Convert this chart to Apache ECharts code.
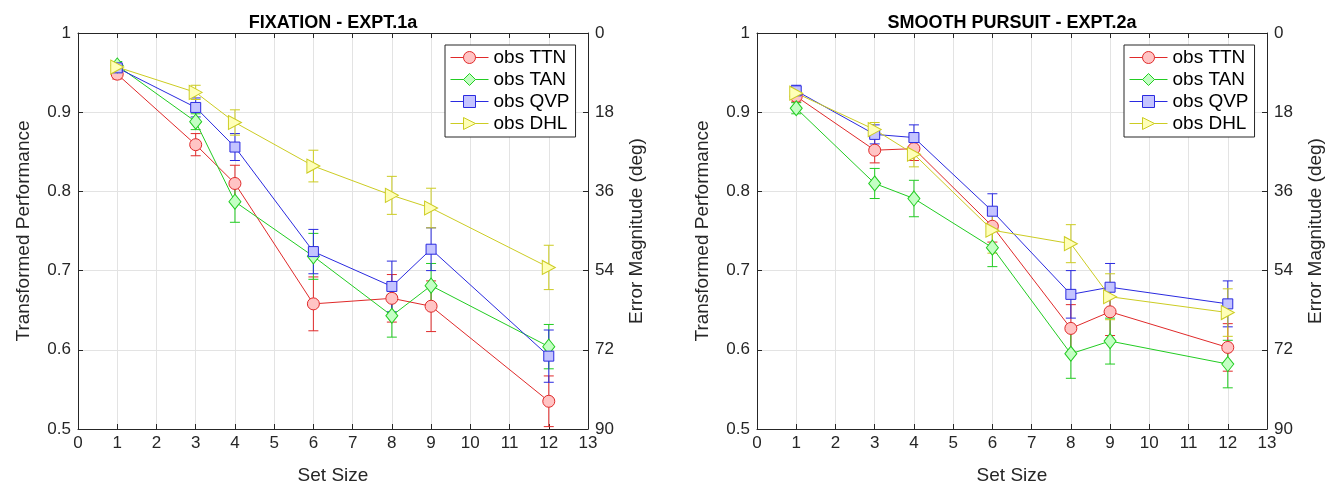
<!DOCTYPE html>
<html>
<head>
<meta charset="utf-8">
<script src="https://cdn.jsdelivr.net/npm/echarts@6/dist/echarts.min.js"></script>
<style>
  html, body { margin: 0; padding: 0; background: #ffffff; }
  #chart { width: 1328px; height: 490px; }
</style>
</head>
<body>
<div id="chart"></div>
<script>
// ---------- data ----------
const setSizes = [1, 3, 4, 6, 8, 9, 12];
const seriesNames = ['obs TTN', 'obs TAN', 'obs QVP', 'obs DHL'];
const xTickLabels = [0, 1, 2, 3, 4, 5, 6, 7, 8, 9, 10, 11, 12, 13];
const errTickLabels = [0, 18, 36, 54, 72, 90];

// Experiment 1a: fixation
const fixTTN = [0.948, 0.859, 0.810, 0.658, 0.665, 0.655, 0.535];
const fixTTNErr = [0.006, 0.014, 0.023, 0.034, 0.030, 0.032, 0.032];
const fixTAN = [0.959, 0.888, 0.787, 0.718, 0.643, 0.681, 0.604];
const fixTANErr = [0.005, 0.010, 0.026, 0.029, 0.027, 0.028, 0.028];
const fixQVP = [0.956, 0.906, 0.856, 0.724, 0.680, 0.727, 0.592];
const fixQVPErr = [0.004, 0.012, 0.017, 0.028, 0.032, 0.027, 0.033];
const fixDHL = [0.957, 0.925, 0.887, 0.832, 0.795, 0.779, 0.704];
const fixDHLErr = [0.005, 0.009, 0.016, 0.020, 0.024, 0.025, 0.028];

// Experiment 2a: smooth pursuit
const spTTN = [0.920, 0.852, 0.854, 0.756, 0.627, 0.648, 0.603];
const spTTNErr = [0.007, 0.016, 0.015, 0.020, 0.030, 0.030, 0.030];
const spTAN = [0.905, 0.810, 0.791, 0.729, 0.595, 0.611, 0.582];
const spTANErr = [0.007, 0.019, 0.023, 0.024, 0.031, 0.029, 0.030];
const spQVP = [0.927, 0.872, 0.868, 0.775, 0.670, 0.679, 0.658];
const spQVPErr = [0.007, 0.012, 0.016, 0.022, 0.030, 0.030, 0.029];
const spDHL = [0.924, 0.878, 0.847, 0.751, 0.734, 0.667, 0.647];
const spDHLErr = [0.007, 0.009, 0.016, 0.029, 0.024, 0.029, 0.030];

// ---------- styles ----------
const FONT = "'Liberation Sans', Arial, Helvetica, sans-serif";
const AX = '#262626';
const GRIDC = '#e3e3e3';
const styles = [
  { stroke: '#e02a2a', fill: '#ffc4c4', symbol: 'circle', size: 12, rotate: 0 },
  { stroke: '#22cc22', fill: '#c4ffc4', symbol: 'diamond', size: [12, 15], rotate: 0 },
  { stroke: '#2a2ae0', fill: '#c4c4ff', symbol: 'rect', size: 10, rotate: 0 },
  { stroke: '#cccc22', fill: '#ffffb8', symbol: 'triangle', size: [14, 13], rotate: -90 }
];

const panels = [
  { title: 'FIXATION - EXPT.1a', left: 78, vals: [fixTTN, fixTAN, fixQVP, fixDHL], errs: [fixTTNErr, fixTANErr, fixQVPErr, fixDHLErr] },
  { title: 'SMOOTH PURSUIT - EXPT.2a', left: 757, vals: [spTTN, spTAN, spQVP, spDHL], errs: [spTTNErr, spTANErr, spQVPErr, spDHLErr] }
];
const GW = 510, GT = 33, GH = 403;

function errRender(color) {
  return function (params, api) {
    const x = api.value(0), lo = api.value(1), hi = api.value(2);
    const a = api.coord([x, hi]), b = api.coord([x, lo]);
    const w = 5;
    const st = { stroke: color, lineWidth: 1 };
    return {
      type: 'group',
      children: [
        { type: 'line', shape: { x1: a[0], y1: a[1], x2: b[0], y2: b[1] }, style: st },
        { type: 'line', shape: { x1: a[0] - w, y1: a[1], x2: a[0] + w, y2: a[1] }, style: st },
        { type: 'line', shape: { x1: b[0] - w, y1: b[1], x2: b[0] + w, y2: b[1] }, style: st }
      ]
    };
  };
}

const option = {
  animation: false,
  backgroundColor: '#ffffff',
  textStyle: { fontFamily: FONT },
  title: [], grid: [], xAxis: [], yAxis: [], legend: [], series: []
};

panels.forEach((p, gi) => {
  option.title.push({
    text: p.title, left: p.left + GW / 2, top: 14, textAlign: 'center', padding: 0,
    textStyle: { fontFamily: FONT, fontSize: 18, fontWeight: 'bold', color: '#000' }
  });
  option.grid.push({ left: p.left, top: GT, width: GW, height: GH, show: false });
  const common = { min: 0, max: 13, interval: 1, gridIndex: gi, type: 'value' };
  option.xAxis.push(Object.assign({}, common, {
    position: 'bottom', name: 'Set Size', nameLocation: 'middle', nameGap: 37,
    nameTextStyle: { fontFamily: FONT, fontSize: 19, color: AX },
    axisLine: { show: true, onZero: false, lineStyle: { color: AX, width: 1 } },
    axisTick: { show: true, inside: true, length: 5, lineStyle: { color: AX } },
    axisLabel: { show: true, margin: 6, fontFamily: FONT, fontSize: 17, color: AX,
      formatter: v => String(xTickLabels[Math.round(v)]) },
    splitLine: { show: true, lineStyle: { color: GRIDC, width: 1 } }
  }));
  option.xAxis.push(Object.assign({}, common, {
    position: 'top',
    axisLine: { show: true, onZero: false, lineStyle: { color: AX, width: 1 } },
    axisTick: { show: true, inside: true, length: 5, lineStyle: { color: AX } },
    axisLabel: { show: false }, splitLine: { show: false }
  }));
  option.yAxis.push({
    type: 'value', gridIndex: gi, min: 0.5, max: 1, interval: 0.1, position: 'left',
    name: 'Transformed Performance', nameLocation: 'middle', nameGap: 45, nameRotate: 90,
    nameTextStyle: { fontFamily: FONT, fontSize: 19, color: AX },
    axisLine: { show: true, onZero: false, lineStyle: { color: AX, width: 1 } },
    axisTick: { show: true, inside: true, length: 5, lineStyle: { color: AX } },
    axisLabel: { margin: 7, fontFamily: FONT, fontSize: 17, color: AX },
    splitLine: { show: true, lineStyle: { color: GRIDC, width: 1 } }
  });
  option.yAxis.push({
    type: 'value', gridIndex: gi, min: 0, max: 90, interval: 18, position: 'right', inverse: true,
    name: 'Error Magnitude (deg)', nameLocation: 'middle', nameGap: 39, nameRotate: 90,
    nameTextStyle: { fontFamily: FONT, fontSize: 19, color: AX },
    axisLine: { show: true, onZero: false, lineStyle: { color: AX, width: 1 } },
    axisTick: { show: true, inside: true, length: 5, lineStyle: { color: AX } },
    axisLabel: { margin: 7, fontFamily: FONT, fontSize: 17, color: AX,
      formatter: v => String(errTickLabels[Math.round(v / 18)]) },
    splitLine: { show: false }
  });
  option.legend.push({
    orient: 'vertical', left: p.left + GW - 143, top: 45,
    data: seriesNames.slice(),
    itemWidth: 38, itemHeight: 15, itemGap: 3,
    padding: [3, 6, 4, 5],
    borderColor: AX, borderWidth: 1, backgroundColor: '#ffffff',
    itemStyle: { borderWidth: 1 },
    lineStyle: { width: 1 },
    textStyle: { fontFamily: FONT, fontSize: 19, color: '#000' },
    selectedMode: false
  });
  seriesNames.forEach((name, si) => {
    const s = styles[si];
    const vals = p.vals[si], errs = p.errs[si];
    option.series.push({
      type: 'custom', name: name + ' err', xAxisIndex: gi * 2, yAxisIndex: gi * 2,
      renderItem: errRender(s.stroke), encode: { x: 0, y: [1, 2] },
      data: setSizes.map((x, i) => [x, vals[i] - errs[i], vals[i] + errs[i]]),
      silent: true, z: 2
    });
    option.series.push({
      type: 'line', name: name, xAxisIndex: gi * 2, yAxisIndex: gi * 2,
      data: setSizes.map((x, i) => [x, vals[i]]),
      symbol: s.symbol, symbolSize: s.size, symbolRotate: s.rotate, showAllSymbol: true,
      lineStyle: { color: s.stroke, width: 1 },
      itemStyle: { color: s.fill, borderColor: s.stroke, borderWidth: 1 },
      emphasis: { disabled: true }, silent: true, z: 2
    });
  });
});

const chart = echarts.init(document.getElementById('chart'), null, { renderer: 'canvas' });
chart.setOption(option);
</script>
</body>
</html>
